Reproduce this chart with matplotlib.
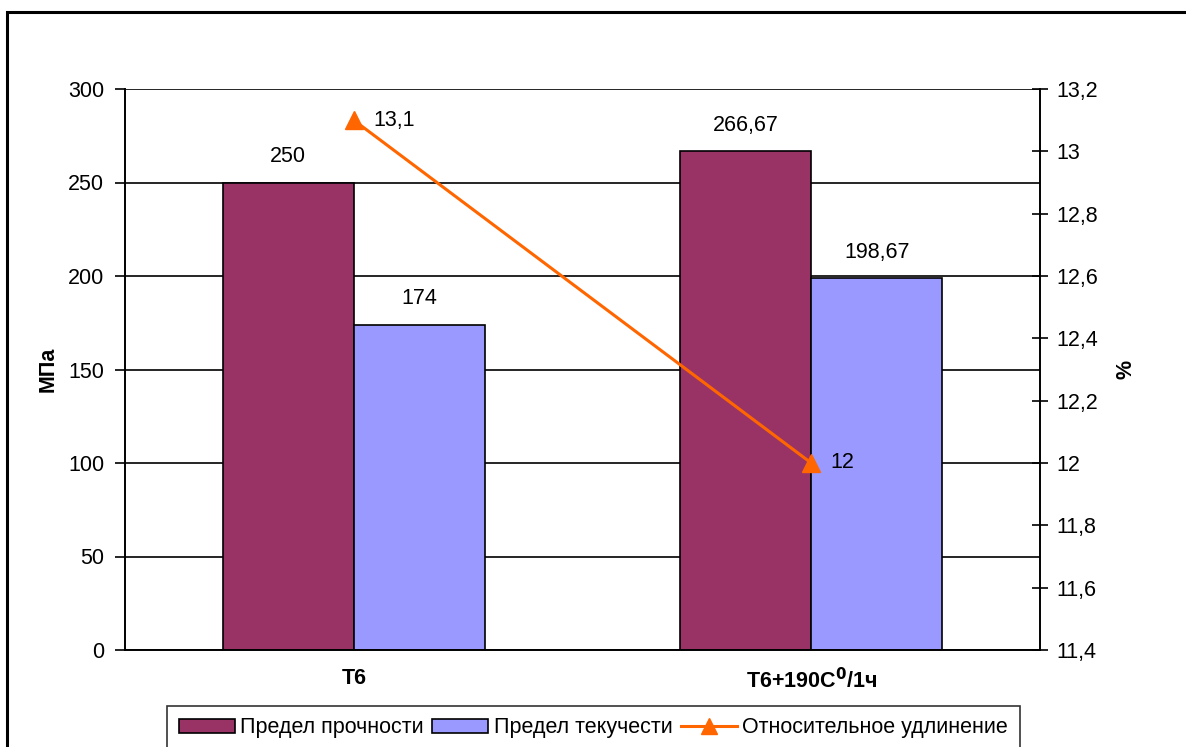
import matplotlib
matplotlib.use("Agg")
import matplotlib.pyplot as plt
from matplotlib.patches import Rectangle
from matplotlib.lines import Line2D
import numpy as np

plt.rcParams['font.family'] = ['Liberation Sans', 'DejaVu Sans']

categories = ["T6", "T6+190C$^{\\mathbf{0}}$/1ч"]
strength = [250, 266.67]
yield_pt = [174, 198.67]
elongation = [13.1, 12.0]
strength_labels = ["250", "266,67"]
yield_labels = ["174", "198,67"]
elong_labels = ["13,1", "12"]
left_ticks = [0, 50, 100, 150, 200, 250, 300]
right_ticks = [11.4, 11.6, 11.8, 12.0, 12.2, 12.4, 12.6, 12.8, 13.0, 13.2]
right_tick_labels = ["11,4", "11,6", "11,8", "12", "12,2", "12,4", "12,6", "12,8", "13", "13,2"]

FS = 15.5
W, H = 1186, 747
fig = plt.figure(figsize=(W / 100, H / 100), dpi=100)
fig.patch.set_facecolor("white")

# outer chart frame
fig.patches.append(Rectangle((7 / W, -0.05), 1.2, (H - 12) / H + 0.05,
                             transform=fig.transFigure, fill=False,
                             edgecolor="black", linewidth=2.2, zorder=0))

ax = fig.add_axes([125 / W, 1 - 650 / H, (1040 - 125) / W, (650 - 89) / H])
x = np.arange(len(categories))
bw = 0.286
ax.bar(x - bw / 2, strength, bw, color="#993366", edgecolor="black", linewidth=1.2, zorder=2)
ax.bar(x + bw / 2, yield_pt, bw, color="#9999FF", edgecolor="black", linewidth=1.2, zorder=2)
ax.set_xlim(-0.5, 1.5)
ax.set_ylim(0, 300)
ax.set_yticks(left_ticks)
ax.set_yticklabels([str(t) for t in left_ticks])
ax.yaxis.grid(True, color="black", linewidth=1.2, zorder=0)
ax.set_axisbelow(True)
ax.set_xticks(x)
ax.set_xticklabels(categories, fontweight="bold")
ax.tick_params(axis="x", length=0, pad=13, labelsize=FS)
ax.tick_params(axis="y", direction="out", length=7, width=1.2, pad=8, labelsize=FS)
for s in ["top", "right"]:
    ax.spines[s].set_visible(False)
for s in ["left", "bottom"]:
    ax.spines[s].set_linewidth(1.4)
ax.set_ylabel("МПа", fontsize=FS, fontweight="bold", labelpad=7)

for xi, v, lab in zip(x - bw / 2, strength, strength_labels):
    ax.annotate(lab, (xi, v), xytext=(0, 11), textcoords="offset points",
                ha="center", va="bottom", fontsize=FS)
for xi, v, lab in zip(x + bw / 2, yield_pt, yield_labels):
    ax.annotate(lab, (xi, v), xytext=(0, 11), textcoords="offset points",
                ha="center", va="bottom", fontsize=FS)

ax2 = ax.twinx()
ax2.plot(x, elongation, color="#FF6600", linewidth=2.2, marker="^", markersize=13,
         markeredgecolor="#FF6600", markerfacecolor="#FF6600", zorder=5)
ax2.set_ylim(11.4, 13.2)
ax2.set_yticks(right_ticks)
ax2.set_yticklabels(right_tick_labels)
ax2.tick_params(axis="y", direction="inout", length=12, width=1.2, pad=6, labelsize=FS)
for s in ["top", "left", "bottom"]:
    ax2.spines[s].set_visible(False)
ax2.spines["right"].set_linewidth(1.4)
ax2.set_ylabel("%", fontsize=FS, fontweight="bold", rotation=90, labelpad=12)
for xi, v, lab in zip(x, elongation, elong_labels):
    ax2.annotate(lab, (xi, v), xytext=(14, 0), textcoords="offset points",
                 ha="left", va="center", fontsize=FS)

handles = [Rectangle((0, 0), 1, 1, facecolor="#993366", edgecolor="black", linewidth=1.2),
           Rectangle((0, 0), 1, 1, facecolor="#9999FF", edgecolor="black", linewidth=1.2),
           Line2D([], [], color="#FF6600", linewidth=2.2, marker="^", markersize=11)]
leg = fig.legend(handles, ["Предел прочности", "Предел текучести", "Относительное удлинение"],
                 loc="lower left", bbox_to_anchor=(156 / W, -14 / H), ncol=3,
                 frameon=True, fancybox=False, fontsize=FS, handlelength=2.6,
                 handleheight=0.6, handletextpad=0.25, columnspacing=0.4, borderpad=0.55)
leg.get_frame().set_edgecolor("black")
leg.get_frame().set_linewidth(1.2)

fig.savefig("out.png", dpi=100)
